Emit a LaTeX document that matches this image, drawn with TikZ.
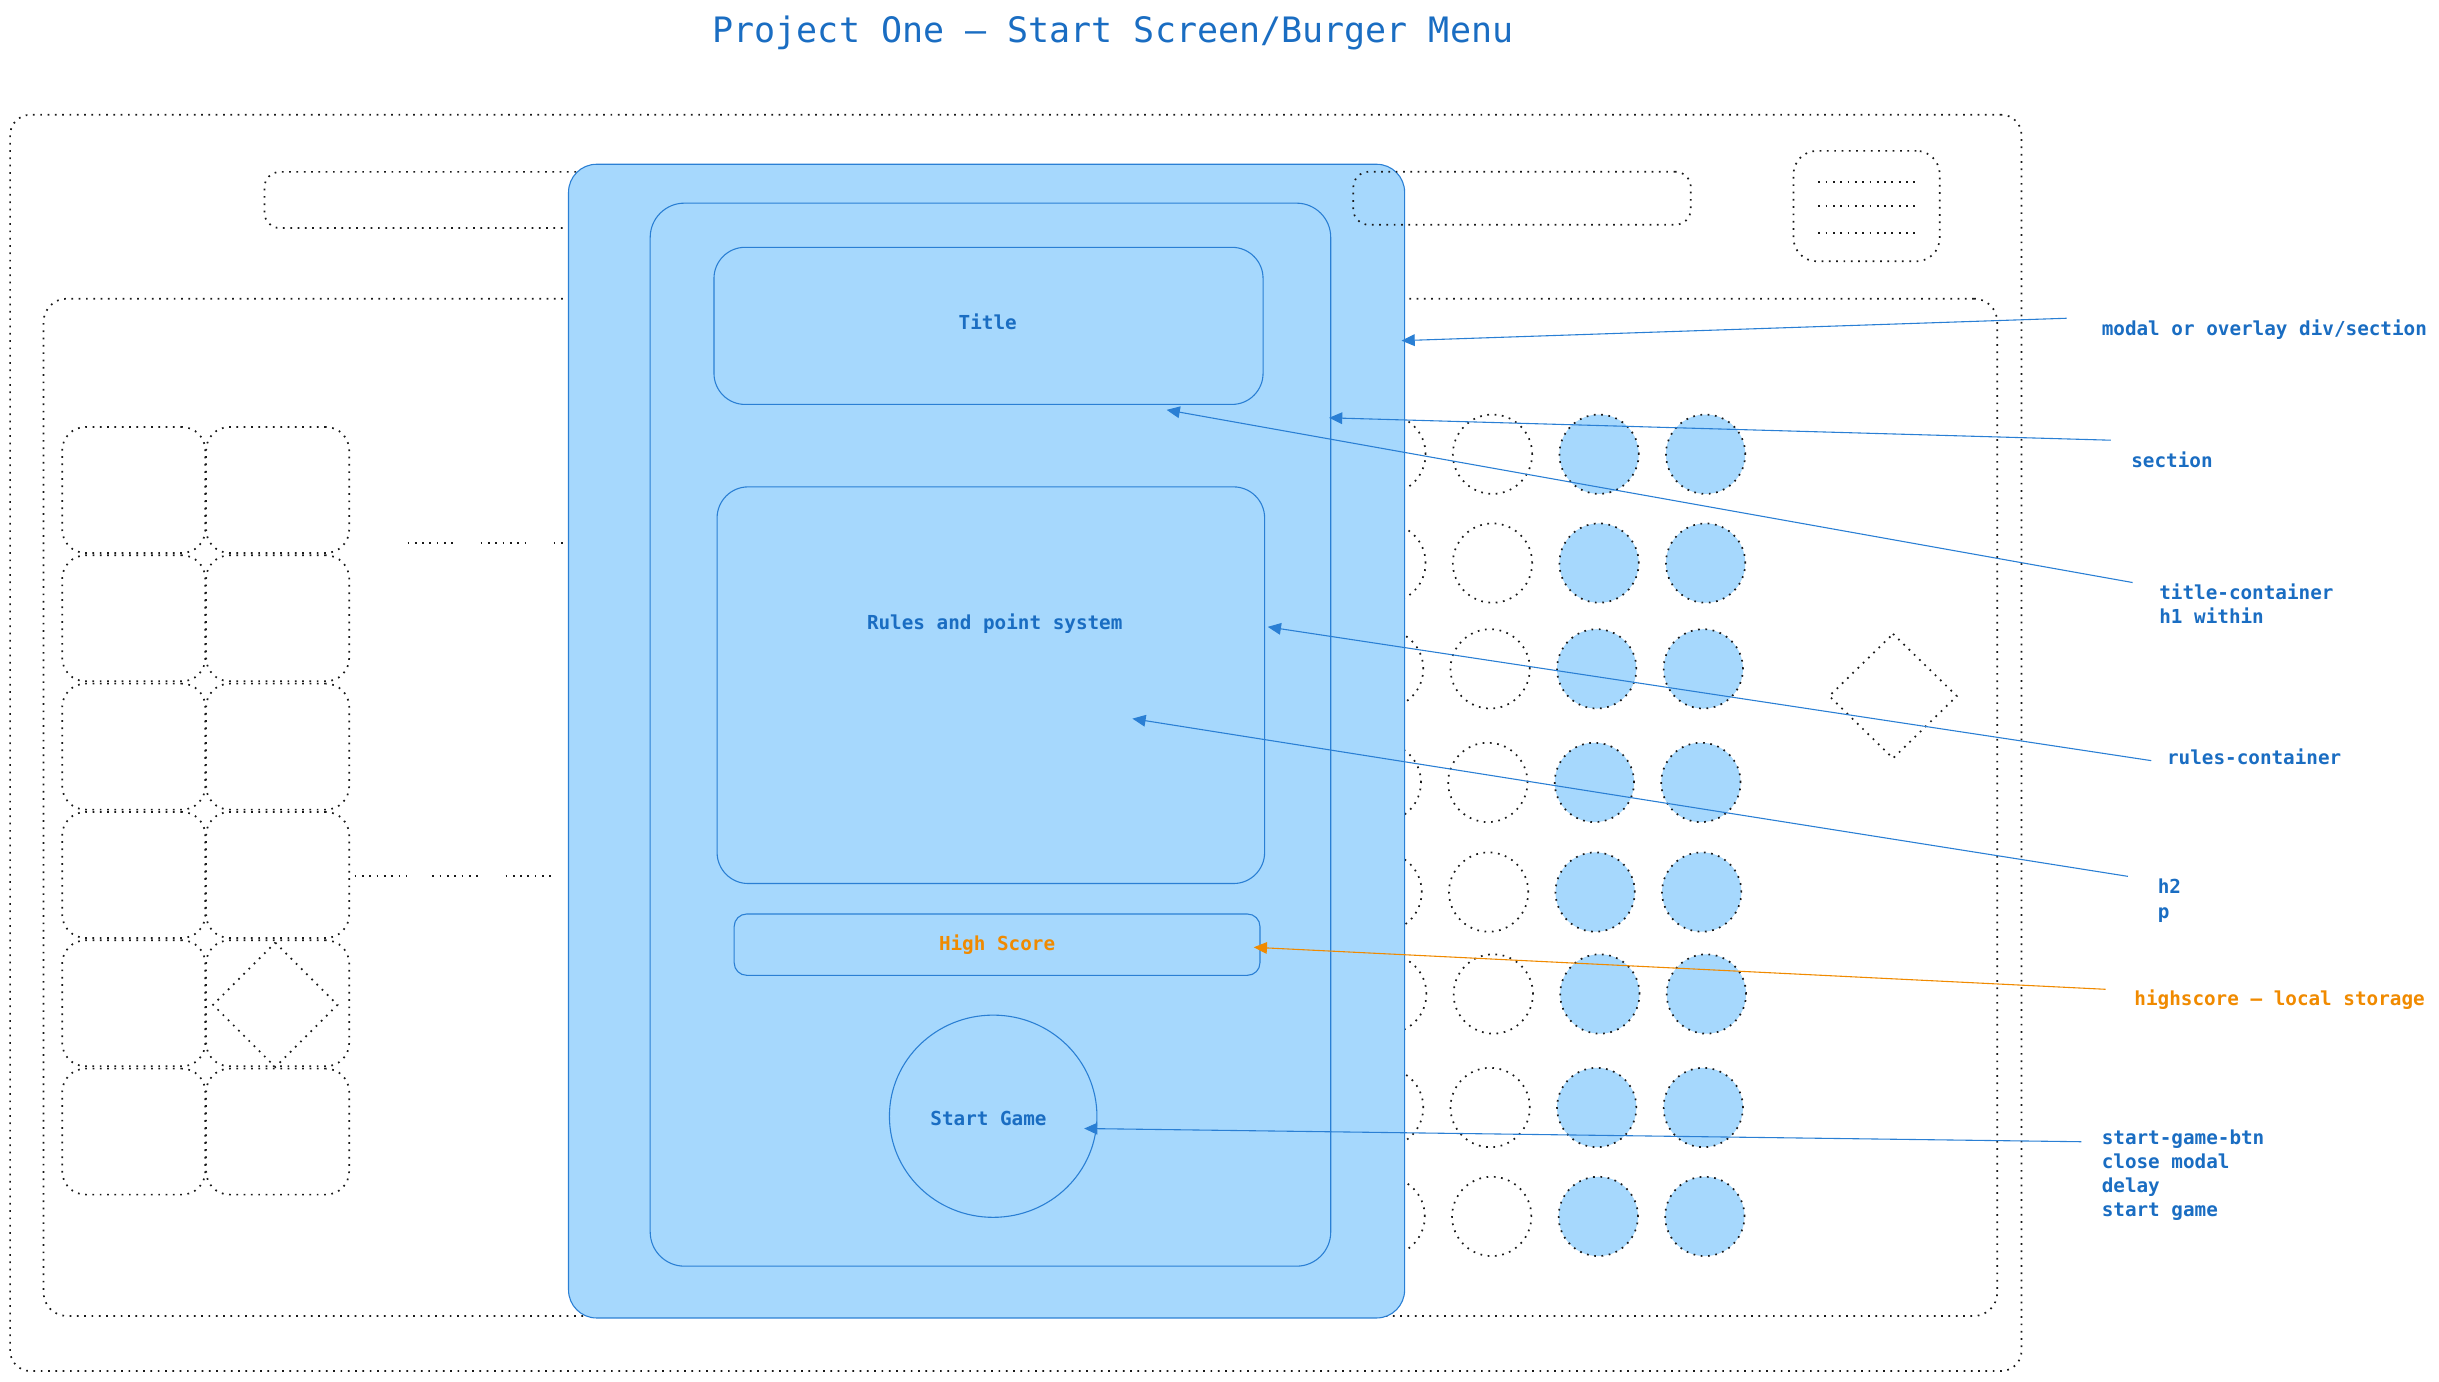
\documentclass[tikz,border=0pt]{standalone}
\usepackage{fontspec}
\setmonofont{DejaVu Sans Mono}
\usetikzlibrary{arrows.meta,shapes.geometric}
\definecolor{txtblue}{HTML}{1A6DC2}
\definecolor{lineblue}{HTML}{2A7FD4}
\definecolor{modalfill}{HTML}{A6D8FD}
\definecolor{hsorange}{HTML}{F08A00}
\definecolor{dotgray}{HTML}{1A1A1A}
\begin{document}
\begin{tikzpicture}[x=1pt,y=-1pt,
        dotline/.style={draw=dotgray,line width=1.1pt,dash pattern=on 1.1pt off 3.6pt},
        dotbox/.style={dotline,rectangle,rounded corners=#1,inner sep=0pt,outer sep=0pt},
        dotbox/.default=15pt,
        bluebox/.style={draw=lineblue,line width=0.7pt,rectangle,rounded corners=#1,inner sep=0pt,outer sep=0pt},
        bluebox/.default=20pt,
        lbl/.style={font=\ttfamily\bfseries\fontsize{12.4}{15.5}\selectfont,text=txtblue,inner sep=0pt,align=left},
        pointer/.style={draw=lineblue,line width=0.7pt,-{Triangle[length=8.5pt,width=7.5pt]}}]
    \useasboundingbox (0,0) rectangle (1568,888);
    \node[font=\ttfamily\fontsize{22.5}{27}\selectfont,text=txtblue] (heading) at (715.5,21) {Project One – Start Screen/Burger Menu};

    \node[dotbox=13pt,minimum width=1293.1pt,minimum height=807.6pt] (page) at (653.05,477.6) {};
    \node[dotbox=10pt,minimum width=450pt,minimum height=36.1pt] (navleft) at (395,128.55) {};
    \node[dotbox=15pt,minimum width=94pt,minimum height=71pt] (burger) at (1200,132.5) {};
    \foreach \y in {117,132.5,150} {
        \draw[dotline] (1169,\y) -- (1232,\y);
    }
    \node[dotbox=15pt,minimum width=1256pt,minimum height=654pt] (board) at (656,519) {};

    \foreach \r in {0,...,5} {
        \foreach \c in {0,1} {
            \node[dotbox,minimum width=92pt,minimum height=81pt] (cell-\r-\c) at ({86+92.5*\c},{315+82.5*\r}) {};
        }
    }
    \draw[dotline] (177,606) -- (217,646) -- (177,686) -- (137,646) -- cycle;
    \foreach \a/\b in {262/293,309/339,356/380} {
        \draw[dotline] (\a,349) -- (\b,349);
    }
    \foreach \a/\b in {228/261,278/309,325/355} {
        \draw[dotline] (\a,563) -- (\b,563);
    }

    \foreach \y/\x in {292/959.5,362/959.5,430/958,503/956.5,573.5/957,639/960,712/958,782/959} {
        \draw[dotline] (\x-68.5,\y) circle[radius=25.5pt];
        \draw[dotline] (\x,\y) circle[radius=25.5pt];
        \draw[dotline,fill=modalfill] (\x+68.5,\y) circle[radius=25.5pt];
        \draw[dotline,fill=modalfill] (\x+137,\y) circle[radius=25.5pt];
    }
    \draw[dotline] (1217,407.5) -- (1258,447.5) -- (1217,487.5) -- (1176,447.5) -- cycle;

    \node[bluebox=18pt,fill=modalfill,minimum width=537.5pt,minimum height=741.7pt] (modal) at (634.25,476.45) {};
    \node[bluebox=22pt,minimum width=437.5pt,minimum height=683.4pt] (section) at (636.75,472.3) {};
    \node[bluebox,minimum width=353pt,minimum height=101pt] (titlebox) at (635.5,209.5) {};
    \node[lbl] (titletext) at (635,207) {Title};
    \node[bluebox,minimum width=352pt,minimum height=255pt] (rulesbox) at (637,440.5) {};
    \node[lbl] (rulestext) at (639.5,401) {Rules and point system};
    \node[bluebox=8pt,lbl,text=hsorange,minimum width=338pt,minimum height=39.4pt] (scorebox) at (641,607.3) {High Score};
    \node[draw=lineblue,line width=0.7pt,ellipse,minimum width=133.4pt,minimum height=130pt,inner sep=0pt,outer sep=0pt] (startbtn) at (638.5,717.6) {};
    \node[lbl] (starttext) at (635.5,719) {Start Game};
    \node[dotbox=10pt,minimum width=217pt,minimum height=34.1pt] (navright) at (978.5,127.45) {};

    \node[lbl,anchor=west] (lmodal) at (1351,212) {modal or overlay div/section};
    \node[lbl,anchor=west] (lsection) at (1370,295.5) {section};
    \node[lbl,anchor=west] (ltitle) at (1388,388) {title-container\\h1 within};
    \node[lbl,anchor=west] (lrules) at (1393,486.5) {rules-container};
    \node[lbl,anchor=west] (lh2) at (1387,579) {h2\\p};
    \node[lbl,anchor=west,text=hsorange] (lscore) at (1372,642.5) {highscore – local storage};
    \node[lbl,anchor=west] (lstart) at (1351,755.5) {start-game-btn\\close modal\\delay\\start game};

    \coordinate (tailmodal) at (1328.6,204.6);
    \coordinate (tipmodal) at (901,219);
    \coordinate (tailsection) at (1357,283);
    \coordinate (tipsection) at (854.4,268.6);
    \coordinate (tailtitle) at (1371,374.5);
    \coordinate (tiptitle) at (750,263.5);
    \coordinate (tailrules) at (1383,489);
    \coordinate (tiprules) at (815,403);
    \coordinate (tailh2) at (1368,563.4);
    \coordinate (tiph2) at (728,462);
    \coordinate (tailscore) at (1353.6,636);
    \coordinate (tipscore) at (806,609);
    \coordinate (tailstart) at (1338,734);
    \coordinate (tipstart) at (697,725.5);
    \draw[pointer] (tailmodal) -- (tipmodal);
    \draw[pointer] (tailsection) -- (tipsection);
    \draw[pointer] (tailtitle) -- (tiptitle);
    \draw[pointer] (tailrules) -- (tiprules);
    \draw[pointer] (tailh2) -- (tiph2);
    \draw[pointer,draw=hsorange] (tailscore) -- (tipscore);
    \draw[pointer] (tailstart) -- (tipstart);
\end{tikzpicture}
\end{document}
